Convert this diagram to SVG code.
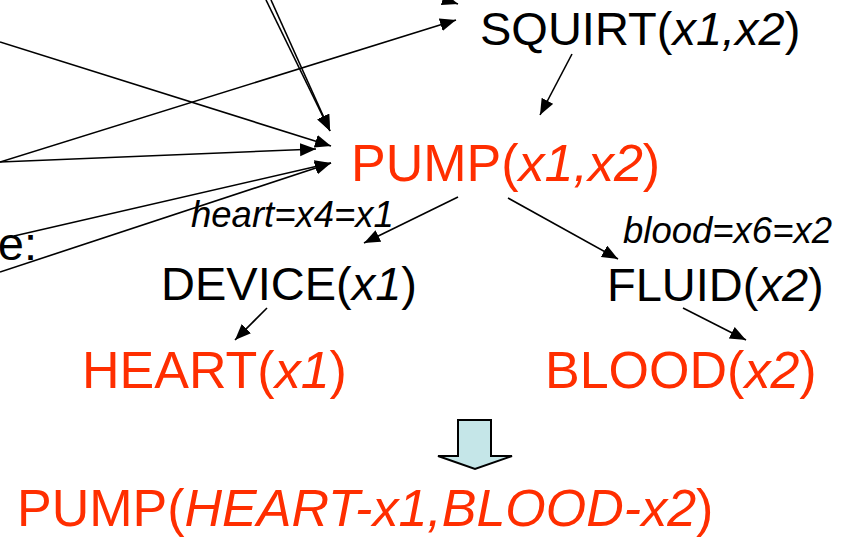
<svg xmlns="http://www.w3.org/2000/svg" width="851" height="538" viewBox="0 0 851 538">
  <style>
    text { font-family: "Liberation Sans", Arial, sans-serif; }
    .blk { fill: #000; font-size: 47px; }
    .red { fill: #ff2e00; font-size: 52px; }
    .lbl { fill: #000; font-size: 36.5px; font-style: italic; }
    .it { font-style: italic; }
    .edge { stroke: #000; stroke-width: 1.6; fill: none; marker-end: url(#tip); }
  </style>
  <defs>
    <marker id="tip" markerUnits="userSpaceOnUse" markerWidth="17" markerHeight="14" refX="16" refY="6.5" orient="auto">
      <path d="M0,0 L16,6.5 L0,13 z" fill="#000"/>
    </marker>
  </defs>

  <!-- connectors -->
  <g id="connectors">
    <line class="edge" x1="380" y1="-22" x2="458" y2="4"/>
    <line class="edge" x1="266" y1="0" x2="330" y2="131"/>
    <line class="edge" x1="271" y1="0" x2="330" y2="131"/>
    <line class="edge" x1="0" y1="42" x2="331" y2="146"/>
    <line class="edge" x1="0" y1="162" x2="456" y2="20"/>
    <line class="edge" x1="0" y1="162" x2="316" y2="149"/>
    <line class="edge" x1="14" y1="236" x2="331" y2="163"/>
    <line class="edge" x1="0" y1="272" x2="331" y2="163"/>
    <line class="edge" x1="572" y1="54" x2="540" y2="115"/>
    <line class="edge" x1="458" y1="197" x2="364" y2="243"/>
    <line class="edge" x1="508" y1="198" x2="618" y2="259"/>
    <line class="edge" x1="267" y1="308" x2="235" y2="340"/>
    <line class="edge" x1="683" y1="308" x2="746" y2="340"/>
  </g>

  <!-- cut-off caption at the left edge -->
  <text class="blk" x="37" y="260" text-anchor="end">e:</text>

  <g id="squirt">
    <text class="blk" x="480" y="45">SQUIRT(<tspan class="it">x1,x2</tspan>)</text>
  </g>

  <g id="pump">
    <text class="red" x="351" y="181">PUMP(<tspan class="it">x1,x2</tspan>)</text>
  </g>

  <g id="label-heart">
    <text class="lbl" x="191" y="227">heart=x4=x1</text>
  </g>

  <g id="label-blood">
    <text class="lbl" x="623" y="243">blood=x6=x2</text>
  </g>

  <g id="device">
    <text class="blk" x="161" y="300">DEVICE(<tspan class="it">x1</tspan>)</text>
  </g>

  <g id="fluid">
    <text class="blk" x="607" y="301">FLUID(<tspan class="it">x2</tspan>)</text>
  </g>

  <g id="heart">
    <text class="red" x="82" y="388">HEART(<tspan class="it">x1</tspan>)</text>
  </g>

  <g id="blood">
    <text class="red" x="545" y="388">BLOOD(<tspan class="it">x2</tspan>)</text>
  </g>

  <!-- block arrow -->
  <g id="result-arrow">
    <path d="M458,420 L491,420 L491,456 L512,456 L475,469 L438,456 L458,456 Z" fill="#c5e6e8" stroke="#000" stroke-width="2" stroke-linejoin="miter"/>
  </g>

  <g id="result">
    <text class="red" x="17" y="526">PUMP(<tspan class="it">HEART-x1,BLOOD-x2</tspan>)</text>
  </g>
</svg>
